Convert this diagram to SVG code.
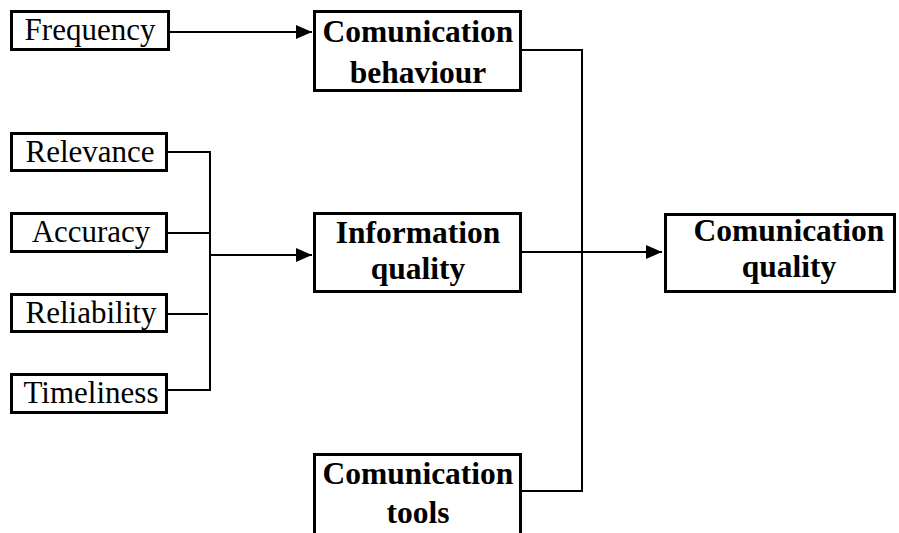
<svg xmlns="http://www.w3.org/2000/svg" width="899" height="533" viewBox="0 0 899 533">
<style>
.box{fill:#fff;stroke:#000;stroke-width:3}
.reg{font-family:"Liberation Serif","Times New Roman",serif;font-size:31px;text-anchor:middle;fill:#000}
.bold{font-family:"Liberation Serif","Times New Roman",serif;font-size:31.5px;font-weight:bold;text-anchor:middle;fill:#000}
.conn{fill:none;stroke:#000;stroke-width:2}
</style>
<defs>
<marker id="arr" markerUnits="userSpaceOnUse" markerWidth="17" markerHeight="15" refX="16" refY="7" orient="auto">
<path d="M0,0 L16,7 L0,14 z" fill="#000"/>
</marker>
</defs>
<rect width="899" height="533" fill="#fff"/>
<g id="connectors">
<path class="conn" d="M170,32 H312" marker-end="url(#arr)"/>
<path class="conn" d="M168,152 H210 V390 H168"/>
<path class="conn" d="M168,233 H210"/>
<path class="conn" d="M168,314 H208"/>
<path class="conn" d="M210,255 H312" marker-end="url(#arr)"/>
<path class="conn" d="M522,50 H582 V491 H522"/>
<path class="conn" d="M522,252 H662" marker-end="url(#arr)"/>
</g>
<g id="frequency">
<rect class="box" x="11.5" y="11.5" width="157" height="38"/>
<text class="reg" x="90" y="40">Frequency</text>
</g>
<g id="relevance">
<rect class="box" x="11.5" y="133.5" width="155" height="37"/>
<text class="reg" x="90" y="162">Relevance</text>
</g>
<g id="accuracy">
<rect class="box" x="11.5" y="213.5" width="155" height="38"/>
<text class="reg" x="91" y="242">Accuracy</text>
</g>
<g id="reliability">
<rect class="box" x="11.5" y="294.5" width="155" height="37"/>
<text class="reg" x="91" y="323">Reliability</text>
</g>
<g id="timeliness">
<rect class="box" x="11.5" y="374.5" width="155" height="38"/>
<text class="reg" x="91" y="403">Timeliness</text>
</g>
<g id="comm-behaviour">
<rect class="box" x="314.5" y="11.5" width="206" height="79"/>
<text class="bold" x="418" y="42">Comunication</text>
<text class="bold" x="418" y="83">behaviour</text>
</g>
<g id="info-quality">
<rect class="box" x="314.5" y="213.5" width="206" height="78"/>
<text class="bold" x="418" y="243">Information</text>
<text class="bold" x="418" y="279">quality</text>
</g>
<g id="comm-quality">
<rect class="box" x="665.5" y="214.5" width="229" height="77"/>
<text class="bold" x="789" y="241">Comunication</text>
<text class="bold" x="789" y="277">quality</text>
</g>
<g id="comm-tools">
<rect class="box" x="314.5" y="454.5" width="206" height="100"/>
<text class="bold" x="418" y="484">Comunication</text>
<text class="bold" x="418" y="523">tools</text>
</g>
</svg>
